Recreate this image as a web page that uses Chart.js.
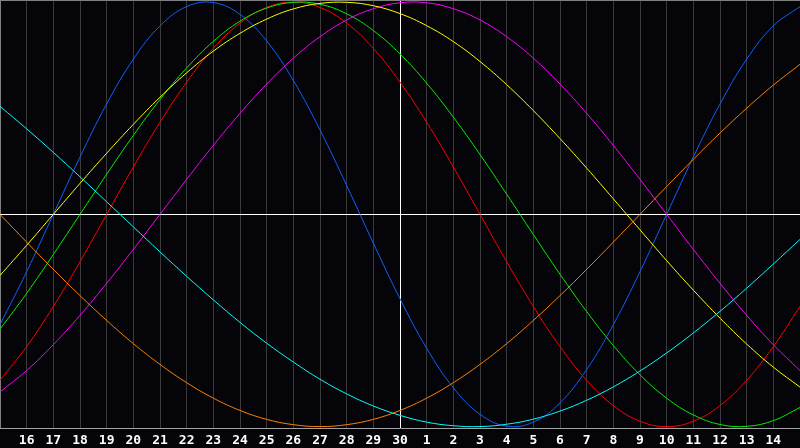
<!DOCTYPE html>
<html>
<head>
<meta charset="utf-8">
<script src="https://cdn.jsdelivr.net/npm/chart.js@4"></script>
<style>
  html, body { margin: 0; padding: 0; background: #050408; }
  #wrap { width: 800px; height: 448px; }
</style>
</head>
<body>
<div id="wrap"><canvas id="bioChart"></canvas></div>
<script>
// Day labels: index 0 and the last one sit on the plot edges and are not printed
const dayLabels = ['15', '16', '17', '18', '19', '20', '21', '22', '23', '24', '25', '26', '27', '28', '29', '30',
                   '1', '2', '3', '4', '5', '6', '7', '8', '9', '10', '11', '12', '13', '14', '15'];
const todayIndex = 15; // the white vertical line (day 30)

// Cycle values, -1 .. 1
const physical = [-0.520, -0.270, 0, 0.270, 0.520, 0.731, 0.888, 0.979, 0.998, 0.942, 0.817, 0.631, 0.398, 0.136,
                  -0.136, -0.398, -0.631, -0.817, -0.942, -0.998, -0.979, -0.888, -0.731, -0.520, -0.270, 0,
                  0.270, 0.520, 0.731, 0.888, 0.979];
const emotional = [-0.782, -0.623, -0.434, -0.223, 0, 0.223, 0.434, 0.623, 0.782, 0.901, 0.975, 1.000, 0.975, 0.901,
                   0.782, 0.623, 0.434, 0.223, 0, -0.223, -0.434, -0.623, -0.782, -0.901, -0.975, -1.000, -0.975,
                   -0.901, -0.782, -0.623, -0.434];
const intellectual = [-0.541, -0.372, -0.189, 0, 0.189, 0.372, 0.541, 0.690, 0.815, 0.910, 0.972, 0.999, 0.990, 0.945,
                      0.866, 0.756, 0.618, 0.458, 0.282, 0.095, -0.095, -0.282, -0.458, -0.618, -0.756, -0.866,
                      -0.945, -0.990, -0.999, -0.972, -0.910];
const intuitive = [-0.837, -0.736, -0.614, -0.476, -0.325, -0.165, 0, 0.165, 0.325, 0.476, 0.614, 0.736, 0.837, 0.916,
                   0.969, 0.997, 0.997, 0.969, 0.916, 0.837, 0.736, 0.614, 0.476, 0.325, 0.165, 0, -0.165, -0.325,
                   -0.476, -0.614, -0.736];
const aesthetic = [-0.288, -0.146, 0, 0.146, 0.288, 0.424, 0.552, 0.667, 0.769, 0.853, 0.920, 0.968, 0.994, 0.999,
                   0.983, 0.946, 0.889, 0.814, 0.720, 0.611, 0.489, 0.357, 0.218, 0.073, -0.073, -0.218, -0.357,
                   -0.489, -0.611, -0.720, -0.814];
const awareness = [0, -0.131, -0.259, -0.383, -0.500, -0.609, -0.707, -0.793, -0.866, -0.924, -0.966, -0.991, -1.000,
                   -0.991, -0.966, -0.924, -0.866, -0.793, -0.707, -0.609, -0.500, -0.383, -0.259, -0.131, 0, 0.131,
                   0.259, 0.383, 0.500, 0.609, 0.707];
const spiritual = [0.509, 0.403, 0.292, 0.177, 0.059, -0.059, -0.177, -0.292, -0.403, -0.509, -0.607, -0.696, -0.777,
                   -0.846, -0.903, -0.947, -0.979, -0.996, -1.000, -0.989, -0.965, -0.927, -0.876, -0.813, -0.738,
                   -0.653, -0.559, -0.457, -0.348, -0.234, -0.118];

function cycle(label, data, color) {
    return {
        label: label,
        data: data,
        borderColor: color,
        borderWidth: 1,
        pointRadius: 0,
        pointHoverRadius: 0,
        fill: false,
        tension: 0.4
    };
}

// zero line and the grey frame on the top
const framePlugin = {
    id: 'framePlugin',
    beforeDatasetsDraw(chart) {
        const { ctx, chartArea, scales } = chart;
        const y0 = Math.round(scales.y.getPixelForValue(0)) + 0.5;
        ctx.save();
        ctx.lineWidth = 1;
        ctx.strokeStyle = '#ffffff';
        ctx.beginPath();
        ctx.moveTo(chartArea.left, y0);
        ctx.lineTo(chartArea.right, y0);
        ctx.stroke();
        ctx.strokeStyle = '#808080';
        ctx.beginPath();
        ctx.moveTo(chartArea.left, chartArea.top + 0.5);
        ctx.lineTo(chartArea.right, chartArea.top + 0.5);
        ctx.stroke();
        ctx.restore();
    }
};

const bioChart = new Chart(document.getElementById('bioChart'), {
    type: 'line',
    data: {
        labels: dayLabels,
        datasets: [
            cycle('Spiritual', spiritual, '#00ffff'),
            cycle('Awareness', awareness, '#ff8000'),
            cycle('Aesthetic', aesthetic, '#ffff00'),
            cycle('Intuitive', intuitive, '#ff00ff'),
            cycle('Intellectual', intellectual, '#00f000'),
            cycle('Emotional', emotional, '#ff0000'),
            cycle('Physical', physical, '#1060ff')
        ]
    },
    options: {
        responsive: true,
        maintainAspectRatio: false,
        animation: false,
        layout: { padding: 0, autoPadding: false },
        plugins: {
            legend: { display: false },
            tooltip: { enabled: false }
        },
        scales: {
            x: {
                offset: false,
                grid: {
                    drawTicks: true,
                    tickLength: 5,
                    tickColor: 'transparent',
                    lineWidth: 1,
                    color: ctx => ctx.index === todayIndex ? '#ffffff' : (ctx.index === 0 ? '#808080' : '#3a3a3a')
                },
                border: { color: '#a0a0a0' },
                ticks: {
                    color: '#ffffff',
                    autoSkip: false,
                    maxRotation: 0,
                    padding: 0,
                    font: { family: 'DejaVu Sans Mono', weight: 'bold', size: 13, lineHeight: 1.1 },
                    callback: (value, index) => (index === 0 || index === dayLabels.length - 1) ? '' : dayLabels[index]
                }
            },
            y: {
                display: false,
                min: -1.01,
                max: 1.01
            }
        }
    },
    plugins: [framePlugin]
});
</script>
</body>
</html>
